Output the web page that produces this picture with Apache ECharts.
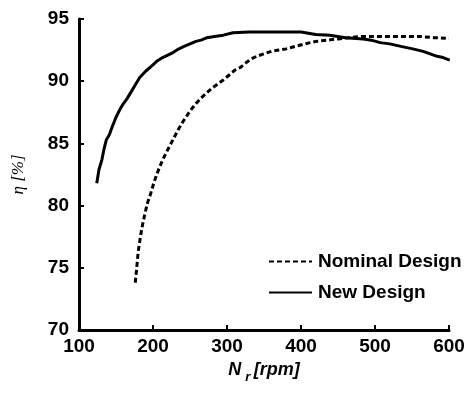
<!DOCTYPE html>
<html><head><meta charset="utf-8">
<script src="https://cdn.jsdelivr.net/npm/echarts@6/dist/echarts.min.js"></script>
<style>html,body{margin:0;padding:0;background:#fff}#c{width:474px;height:397px}</style>
</head><body><div id="c"></div>
<script>
const nominalX = [176,178,180,183,186,190,193,197,201,205,209,214,220,227,234,241,250,258,266,273,281,288,295,303,311,318,326,333,340,350,360,370,380,392,405,420,435,450,465,480,500,520,540,560,580,600];
const nominalY = [73.8,75.0,76.3,77.5,78.5,79.6,80.3,81.0,81.8,82.5,83.1,83.8,84.5,85.3,86.1,86.8,87.6,88.2,88.7,89.1,89.5,89.8,90.1,90.5,90.9,91.1,91.5,91.8,92.0,92.2,92.4,92.5,92.6,92.8,93.0,93.2,93.3,93.4,93.5,93.6,93.6,93.6,93.6,93.6,93.5,93.45];
const newX = [124,127,131,134,137,141,144,148,150,155,160,165,169,175,182,190,196,205,213,220,227,235,242,250,258,265,273,283,295,308,330,360,400,420,439,460,484,495,507,520,535,551,565,584,592,601];
const newY = [81.8,82.9,83.7,84.6,85.3,85.7,86.2,86.8,87.1,87.7,88.2,88.6,89.0,89.6,90.3,90.8,91.1,91.6,91.9,92.1,92.3,92.6,92.8,93.0,93.2,93.3,93.5,93.6,93.7,93.9,93.95,93.95,93.95,93.75,93.7,93.5,93.4,93.3,93.1,93.0,92.8,92.6,92.4,92.0,91.9,91.7];
const xTicks = [100,200,300,400,500,600];
const yTicks = [70,75,80,85,90,95];
const seriesNames = ['Nominal Design','New Design'];

const pts = (xs, ys) => xs.map((x, i) => [x, ys[i]]);
const chart = echarts.init(document.getElementById('c'), null, {renderer:'canvas'});
const font = 'Liberation Sans, Arial, sans-serif';
chart.setOption({
  animation:false,
  grid:{left:79,right:25,top:19,bottom:67},
  legend:{
    orient:'vertical', left:263, top:247, itemWidth:43, itemHeight:10, itemGap:12,
    data:seriesNames,
    itemStyle:{opacity:0},
    textStyle:{fontFamily:font, fontWeight:'bold', fontSize:19, color:'#000', padding:[0,0,0,1]}
  },
  xAxis:{
    type:'value', min:xTicks[0], max:xTicks[xTicks.length-1], interval:100,
    axisLine:{show:true, lineStyle:{color:'#000', width:3}},
    axisTick:{show:true, inside:true, length:5, lineStyle:{color:'#000', width:2}},
    splitLine:{show:false},
    axisLabel:{fontFamily:font, fontWeight:'bold', fontSize:19, color:'#000', margin:7},
    name:'{n|N}{s|r} {n|[rpm]}', nameLocation:'middle', nameGap:21,
    nameTextStyle:{rich:{
      n:{fontFamily:font, fontWeight:'bold', fontStyle:'italic', fontSize:18, color:'#000'},
      s:{fontFamily:font, fontWeight:'bold', fontStyle:'italic', fontSize:13, color:'#000', padding:[16,0,0,4]}
    }}
  },
  yAxis:{
    type:'value', min:yTicks[0], max:yTicks[yTicks.length-1], interval:5,
    axisLine:{show:true, lineStyle:{color:'#000', width:3}},
    axisTick:{show:true, inside:true, length:5, lineStyle:{color:'#000', width:2}},
    splitLine:{show:false},
    axisLabel:{fontFamily:font, fontWeight:'bold', fontSize:19, color:'#000', margin:10},
    name:'η [%]', nameLocation:'middle', nameGap:52, nameRotate:90,
    nameTextStyle:{fontFamily:'Liberation Serif, serif', fontStyle:'italic', fontSize:17, color:'#000'}
  },
  series:[
    {name:seriesNames[0], type:'line', data:pts(nominalX, nominalY), showSymbol:false, symbol:'none',
     lineStyle:{color:'#000', width:3, type:[5,3]}, itemStyle:{color:'#000'}},
    {name:seriesNames[1], type:'line', data:pts(newX, newY), showSymbol:false, symbol:'none',
     lineStyle:{color:'#000', width:3}, itemStyle:{color:'#000'}}
  ]
});
</script></body></html>
